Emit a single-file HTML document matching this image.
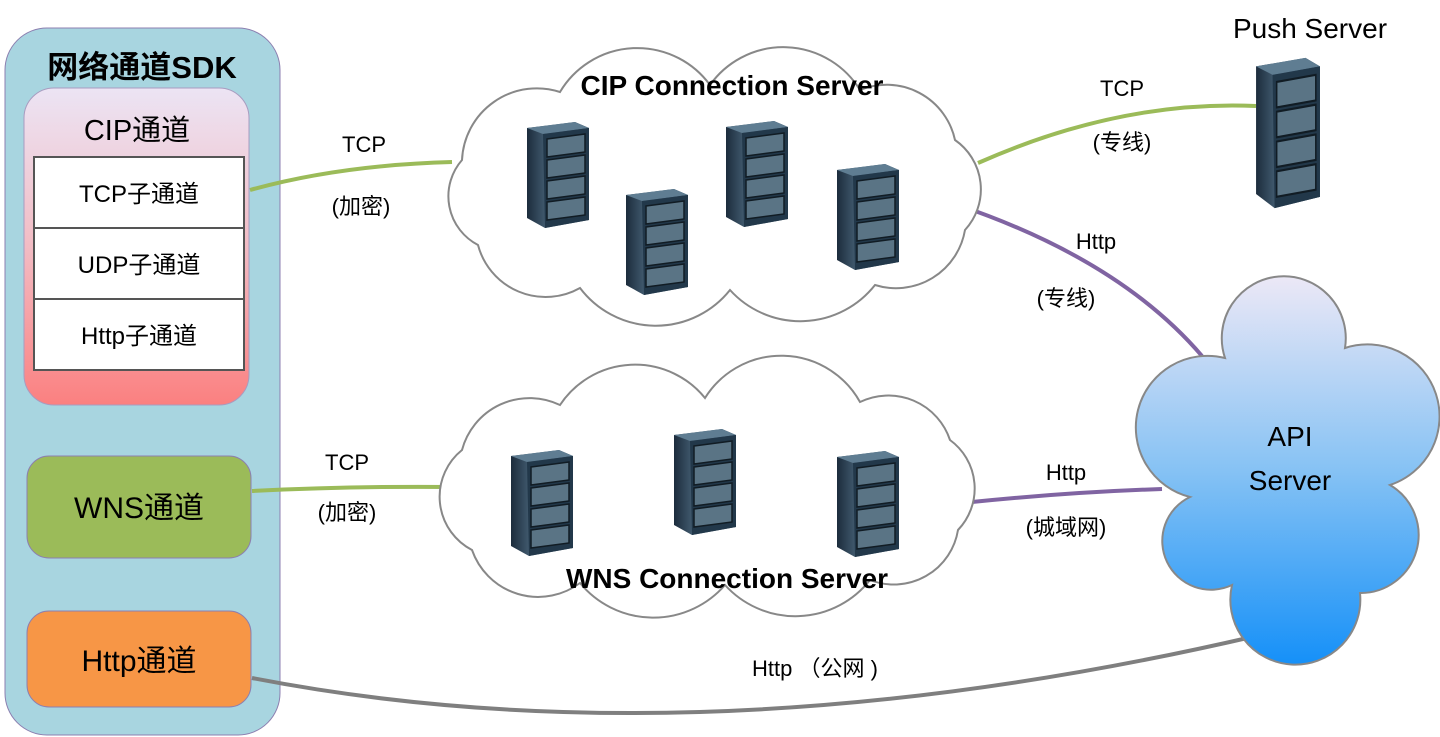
<!DOCTYPE html>
<html><head><meta charset="utf-8"><style>
html,body{margin:0;padding:0;background:#fff;width:1440px;height:737px;overflow:hidden}
svg text{font-family:"Liberation Sans","Noto Sans CJK SC",sans-serif}
</style></head><body>
<svg width="1440" height="737" viewBox="0 0 1440 737" xmlns="http://www.w3.org/2000/svg">
<defs>
<linearGradient id="cip" x1="0" y1="0" x2="0" y2="1"><stop offset="0" stop-color="#ece4f4"/><stop offset="0.5" stop-color="#f2bcc4"/><stop offset="1" stop-color="#fb8080"/></linearGradient>
<linearGradient id="api" x1="0" y1="0" x2="0" y2="1"><stop offset="0" stop-color="#ece8f6"/><stop offset="0.5" stop-color="#86c2f4"/><stop offset="1" stop-color="#1590f8"/></linearGradient>
<linearGradient id="body" x1="0" y1="0" x2="1" y2="0"><stop offset="0" stop-color="#1c2c3c"/><stop offset="0.4" stop-color="#4e6a80"/><stop offset="1" stop-color="#22384a"/></linearGradient>
<symbol id="srv" viewBox="0 0 66 110" preserveAspectRatio="none">
<path d="M2 8 L50 2 L64 8 L64 100 L20 108 L2 98 Z" fill="url(#body)"/>
<path d="M2 8 L50 2 L64 8 L18 14 Z" fill="#5f7d92"/>
<path d="M18 14 L64 8 L64 100 L20 108 Z" fill="#22384a"/>
<g fill="#5a7485" stroke="#111c24" stroke-width="1.5">
<path d="M22 19 L60 14 L60 32 L22 37 Z"/>
<path d="M22 40 L60 35 L60 53 L22 58 Z"/>
<path d="M22 61 L60 56 L60 74 L22 79 Z"/>
<path d="M22 82 L60 77 L60 95 L22 100 Z"/>
</g>
</symbol>
</defs>

<!-- SDK panel -->
<rect x="5" y="28" width="275" height="707" rx="42" fill="#a8d5e0" stroke="#8c7fb0" stroke-width="1"/>
<text x="142" y="78" font-size="31" font-weight="bold" text-anchor="middle">网络通道SDK</text>
<rect x="24" y="88" width="225" height="317" rx="30" fill="url(#cip)" stroke="#a89cc0" stroke-width="1"/>
<text x="137" y="140" font-size="29" text-anchor="middle">CIP通道</text>
<rect x="34" y="157" width="210" height="213" fill="#fff" stroke="#555" stroke-width="2"/>
<line x1="34" y1="228" x2="244" y2="228" stroke="#555" stroke-width="2"/>
<line x1="34" y1="299" x2="244" y2="299" stroke="#555" stroke-width="2"/>
<text x="139" y="202" font-size="24" text-anchor="middle">TCP子通道</text>
<text x="139" y="273" font-size="24" text-anchor="middle">UDP子通道</text>
<text x="139" y="344" font-size="24" text-anchor="middle">Http子通道</text>
<rect x="27" y="456" width="224" height="102" rx="22" fill="#9bbb59" stroke="#8c7fb0" stroke-width="1"/>
<text x="139" y="518" font-size="30" text-anchor="middle">WNS通道</text>
<rect x="27" y="611" width="224" height="96" rx="22" fill="#f79646" stroke="#8c7fb0" stroke-width="1"/>
<text x="139" y="671" font-size="30" text-anchor="middle">Http通道</text>

<!-- connectors -->
<path d="M250 190 Q340 165 452 162" fill="none" stroke="#9bbb59" stroke-width="4"/>
<path d="M252 491 Q350 486 452 487" fill="none" stroke="#9bbb59" stroke-width="4"/>
<path d="M978 163 Q1120 100 1256 106" fill="none" stroke="#9bbb59" stroke-width="4"/>
<path d="M958 205 Q1120 260 1202 356" fill="none" stroke="#8064a2" stroke-width="4"/>
<path d="M972 502 Q1070 492 1162 489" fill="none" stroke="#8064a2" stroke-width="4"/>
<path d="M252 678 Q700 765 1256 636" fill="none" stroke="#7f7f7f" stroke-width="4"/>

<!-- CIP cloud -->
<path d="M462 160 A75 75 0 0 1 560 92 A90 90 0 0 1 710 85 A90 90 0 0 1 860 90 A70 70 0 0 1 955 140 A60 60 0 0 1 965 230 A70 70 0 0 1 875 285 A95 95 0 0 1 730 290 A95 95 0 0 1 580 288 A70 70 0 0 1 478 245 A55 55 0 0 1 462 160 Z" fill="#fff" stroke="#888" stroke-width="2"/>
<!-- WNS cloud -->
<path d="M462 450 A70 70 0 0 1 560 405 A90 90 0 0 1 705 398 A90 90 0 0 1 860 402 A65 65 0 0 1 950 440 A60 60 0 0 1 958 530 A65 65 0 0 1 870 580 A95 95 0 0 1 725 585 A95 95 0 0 1 580 583 A70 70 0 0 1 472 550 A60 60 0 0 1 462 450 Z" fill="#fff" stroke="#888" stroke-width="2"/>
<!-- API cloud -->
<path d="M1225 358 A62 62 0 1 1 1345 348 A72 72 0 0 1 1390 485 A58 58 0 0 1 1360 593 A65 65 0 1 1 1232 585 A48 48 0 0 1 1190 497 A70 70 0 0 1 1225 358 Z" fill="url(#api)" stroke="#888" stroke-width="2"/>

<text x="732" y="95" font-size="28" font-weight="bold" text-anchor="middle">CIP Connection Server</text>
<text x="727" y="588" font-size="28" font-weight="bold" text-anchor="middle">WNS Connection Server</text>
<text x="1310" y="38" font-size="28" text-anchor="middle">Push Server</text>
<text x="1290" y="446" font-size="28" text-anchor="middle">API</text>
<text x="1290" y="490" font-size="28" text-anchor="middle">Server</text>

<use href="#srv" x="525" y="120" width="66" height="110"/>
<use href="#srv" x="624" y="187" width="66" height="110"/>
<use href="#srv" x="724" y="119" width="66" height="110"/>
<use href="#srv" x="835" y="162" width="66" height="110"/>
<use href="#srv" x="1254" y="55" width="68" height="156"/>
<use href="#srv" x="509" y="448" width="66" height="110"/>
<use href="#srv" x="672" y="427" width="66" height="110"/>
<use href="#srv" x="835" y="449" width="66" height="110"/>

<g font-size="22" text-anchor="middle">
<text x="364" y="152">TCP</text><text x="361" y="214">(加密)</text>
<text x="347" y="470">TCP</text><text x="347" y="520">(加密)</text>
<text x="1122" y="96">TCP</text><text x="1122" y="150">(专线)</text>
<text x="1096" y="249">Http</text><text x="1066" y="306">(专线)</text>
<text x="1066" y="480">Http</text><text x="1066" y="535">(城域网)</text>
<text x="815" y="676">Http （公网 )</text>
</g>
</svg>
</body></html>
